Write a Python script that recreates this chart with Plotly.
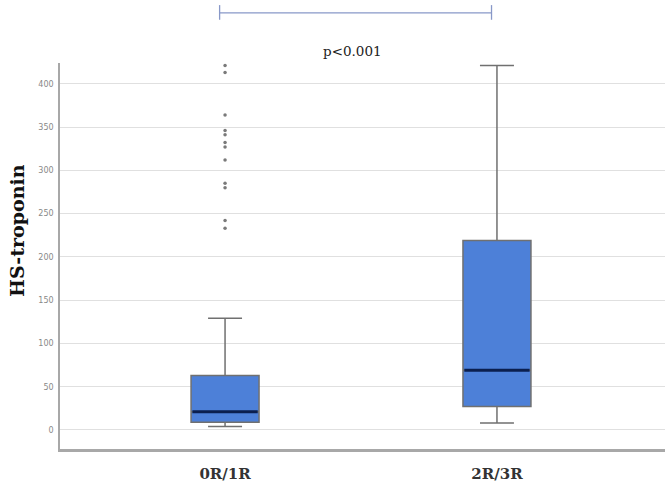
import plotly.graph_objects as go

categories = ["0R/1R", "2R/3R"]
q1 = [9, 27]
median = [21, 69]
q3 = [63, 219]
lower_whisker = [4, 8]
upper_whisker = [129, 421]
outliers_group0 = [421, 413, 364, 346, 341, 332, 327, 312, 285, 280, 242, 233]
y_ticks = [0, 50, 100, 150, 200, 250, 300, 350, 400]
p_text = "p<0.001"
y_title = "HS-troponin"

box_fill = "#4d80d8"
box_line = "#707070"
median_color = "#0b1f4f"
box_w = 0.25

xpos = list(range(len(categories)))
fig = go.Figure()
for i, c in enumerate(categories):
    fig.add_trace(go.Box(
        x=[xpos[i]], q1=[q1[i]], median=[median[i]], q3=[q3[i]],
        lowerfence=[lower_whisker[i]], upperfence=[upper_whisker[i]],
        width=box_w, whiskerwidth=0.5, boxpoints=False,
        fillcolor=box_fill, line=dict(color=box_line, width=1.5),
        name=c, showlegend=False, hoverinfo="skip"))
    fig.add_trace(go.Scatter(
        x=[xpos[i] - box_w / 2 * 0.96, xpos[i] + box_w / 2 * 0.96],
        y=[median[i], median[i]], mode="lines",
        line=dict(color=median_color, width=3), showlegend=False, hoverinfo="skip"))

fig.add_trace(go.Scatter(
    x=[xpos[0]] * len(outliers_group0), y=outliers_group0, mode="markers",
    marker=dict(color="#7a7a7a", size=3.5, symbol="circle"),
    showlegend=False, hoverinfo="skip"))

# significance bracket
bx0, bx1 = xpos[0] - 0.02, xpos[1] - 0.02
bcol = "#8898c8"
fig.add_shape(type="line", xref="x", yref="paper", x0=bx0, x1=bx1, y0=1.130, y1=1.130,
              line=dict(color=bcol, width=1.3))
for bx in (bx0, bx1):
    fig.add_shape(type="line", xref="x", yref="paper", x0=bx, x1=bx, y0=1.112, y1=1.150,
                  line=dict(color=bcol, width=1.3))
fig.add_annotation(x=0.47, y=1.03, xref="x", yref="paper", text=p_text, showarrow=False,
                   font=dict(family="DejaVu Serif", size=13.5, color="#222"),
                   xanchor="center", yanchor="middle")
fig.add_annotation(xref="paper", yref="paper",
                   x=(17 - 60) / 605, y=(449 - 231) / 386,
                   text="<b>" + y_title + "</b>", showarrow=False,
                   textangle=-90, font=dict(family="DejaVu Serif", size=19, color="#111"),
                   xanchor="center", yanchor="middle")

fig.update_layout(
    width=665, height=482,
    margin=dict(l=60, r=0, t=63, b=33),
    paper_bgcolor="white", plot_bgcolor="white",
    xaxis=dict(range=[-0.607, 1.618], tickvals=xpos,
               ticktext=["<b>" + c + "</b>" for c in categories],
               tickfont=dict(family="DejaVu Serif", size=15, color="#333"),
               showgrid=False, zeroline=False, showline=True, linecolor="#a8a8a8",
               linewidth=2.5, ticks="", ticklabelstandoff=9),
    yaxis=dict(range=[-22, 424], tickvals=y_ticks, showgrid=True, gridcolor="#e0e0e0",
               gridwidth=1.3, zeroline=False, showline=True, linecolor="#a8a8a8",
               linewidth=1.5, ticks="", tickfont=dict(family="DejaVu Sans", size=8, color="#888"),
               ticklabelstandoff=3),
)

fig.write_html("out.html")
